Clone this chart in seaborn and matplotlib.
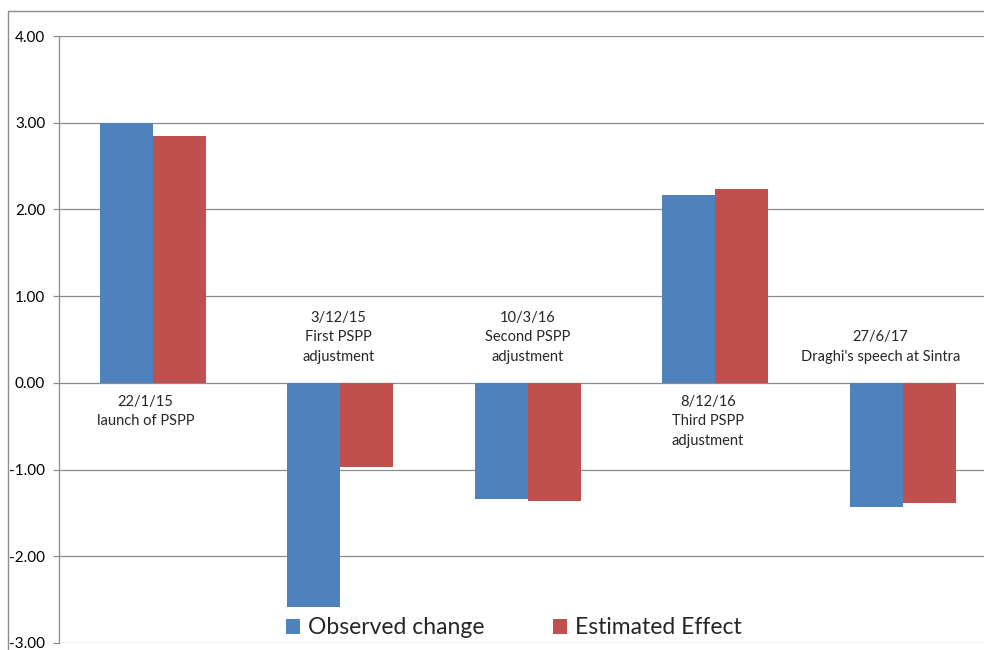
import matplotlib
matplotlib.use("Agg")
import matplotlib.pyplot as plt
from matplotlib.lines import Line2D
from matplotlib.patches import Patch
import seaborn as sns
import pandas as pd

# Event dates and descriptions
events = ["22/1/15", "3/12/15", "10/3/16", "8/12/16", "27/6/17"]
event_notes = ["launch of PSPP", "First PSPP\nadjustment", "Second PSPP\nadjustment",
               "Third PSPP\nadjustment", "Draghi's speech at Sintra"]

# Series values per event
observed_change = [3.00, -2.58, -1.34, 2.17, -1.43]
estimated_effect = [2.85, -0.97, -1.36, 2.23, -1.38]

series_names = ["Observed change", "Estimated Effect"]
colors = ["#4F81BD", "#C0504D"]
yticks = [-3, -2, -1, 0, 1, 2, 3, 4]

df = pd.DataFrame({
    "event": events * 2,
    "value": observed_change + estimated_effect,
    "series": [series_names[0]] * len(events) + [series_names[1]] * len(events),
})

sns.set_style("white")
plt.rcParams["font.family"] = ["Lato", "DejaVu Sans"]

fig = plt.figure(figsize=(9.84, 6.5), dpi=100)
ax = fig.add_axes([0.0600, 0.0108, 0.9527, 0.9338])

sns.barplot(data=df, x="event", y="value", hue="series", palette=colors,
            width=0.565, saturation=1, linewidth=0, legend=False, ax=ax)

grid_color = "#8c8c8c"
ax.set_ylim(-3, 4)
ax.set_xlim(-0.5, len(events) - 0.5)
ax.set_yticks(yticks)
ax.set_yticklabels([f"{v:.2f}" for v in yticks], fontsize=11, color="#000000")
ax.yaxis.grid(True, color=grid_color, linewidth=0.9)
ax.set_axisbelow(True)
ax.set_xticks([])
ax.set_xlabel("")
ax.set_ylabel("")
ax.tick_params(axis="y", length=4, width=0.9, color=grid_color, pad=6, left=True)
for side in ["top", "right", "bottom"]:
    ax.spines[side].set_visible(False)
ax.spines["left"].set_color(grid_color)
ax.spines["left"].set_linewidth(0.9)

# Event labels next to the zero line, on the side away from the bars
label_offsets = [-0.04, -0.01, 0.0, -0.04, -0.12]
for i, (date, note) in enumerate(zip(events, event_notes)):
    top_val = max(observed_change[i], estimated_effect[i])
    x = i + label_offsets[i]
    if top_val > 0:
        ax.text(x, -0.14, f"{date}\n{note}", ha="center", va="top",
                fontsize=10.5, linespacing=1.5)
    else:
        ax.text(x, 0.22, f"{date}\n{note}", ha="center", va="bottom",
                fontsize=10.5, linespacing=1.5)

handles = [Patch(facecolor=c, edgecolor="none") for c in colors]
fig.legend(handles, series_names, loc="center", bbox_to_anchor=(0.522, 0.034),
           ncol=2, frameon=False, fontsize=16.5, handlelength=0.6, handleheight=0.6,
           handletextpad=0.35, columnspacing=3.0)

# Outer chart frame
fig.add_artist(Line2D([8 / 984, 8 / 984], [0, 1 - 11 / 650], transform=fig.transFigure,
                      color=grid_color, linewidth=1.0))
fig.add_artist(Line2D([8 / 984, 1], [1 - 11 / 650, 1 - 11 / 650], transform=fig.transFigure,
                      color=grid_color, linewidth=1.0))

fig.savefig("out.png", dpi=100)
